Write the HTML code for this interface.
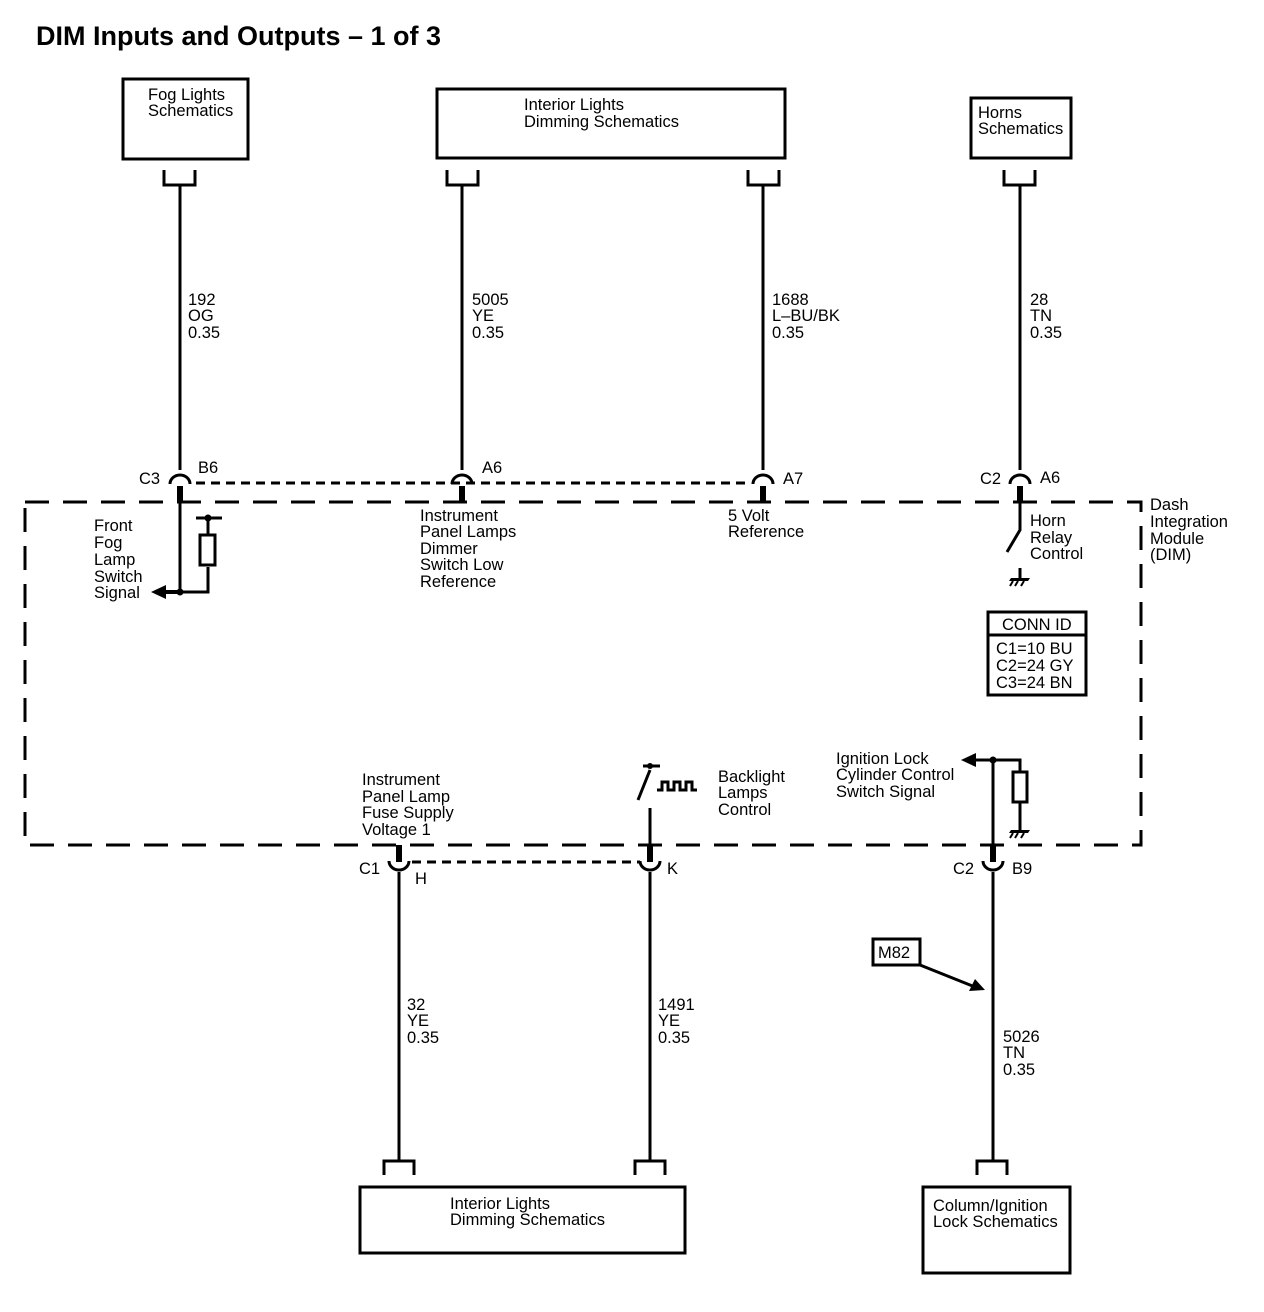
<!DOCTYPE html>
<html><head><meta charset="utf-8"><style>
html,body{margin:0;padding:0;background:#fff;}
svg{display:block;}
text{font-family:"Liberation Sans",sans-serif;font-size:16.5px;fill:#000;}
</style></head><body>
<svg width="1264" height="1312" viewBox="0 0 1264 1312" xmlns="http://www.w3.org/2000/svg">
<text x="36" y="45" style="font-size:27px;font-weight:bold">DIM Inputs and Outputs – 1 of 3</text>
<g fill="none" stroke="#000" stroke-width="3">
<rect x="123" y="79" width="125" height="80"/>
<rect x="437" y="89" width="348" height="69"/>
<rect x="971" y="98" width="100" height="60"/>
<rect x="360" y="1187" width="325" height="66"/>
<rect x="923" y="1187" width="147" height="86"/>
<path d="M164 170V185H195V170 M447 170V185H478V170 M748 170V185H779V170 M1004 170V185H1035V170"/>
<path d="M384 1175V1161H414V1175 M635 1175V1161H665V1175 M977 1175V1161H1007V1175"/>
<path d="M180 185V470 M462 185V470 M763 185V470 M1020 185V470"/>
<path d="M399 872V1161 M650 872V1161 M993 872V1161"/>
<path d="M170 484A10 9 0 0 1 190 484 M452 484A10 9 0 0 1 472 484 M753 484A10 9 0 0 1 773 484 M1010 484A10 9 0 0 1 1030 484"/>
<path d="M389 861A10 9 0 0 0 409 861 M640 861A10 9 0 0 0 660 861 M983 861A10 9 0 0 0 1003 861"/>
<path d="M196 483H750" stroke-dasharray="9,6"/>
<path d="M412 862H640" stroke-dasharray="9,6"/>
<rect x="25" y="502" width="1116" height="343" stroke-dasharray="24,14"/>
<path d="M180 500V592H208V567 M196 518H222 M208 518V535"/>
<rect x="200" y="535" width="15" height="30"/>
<path d="M1020 500V530L1007 552 M1020 568V578"/>
<path d="M650 808V845 M638 800L650 770 M643 766H660 M657 790H662V782H668V790H674V782H680V790H686V782H692V790H697"/>
<path d="M993 845V760 M975 760H1020V772 M1020 802V830"/>
<rect x="1013" y="772" width="14" height="30"/>
<rect x="873" y="939" width="47" height="26"/>
<path d="M920 965L975 987"/>
<rect x="988" y="612" width="98" height="83"/>
<path d="M988 635H1086"/>
</g>
<g stroke="#000" stroke-width="6">
<path d="M180 486V502 M462 486V502 M763 486V502 M1020 486V502"/>
<path d="M399 845V862 M650 845V862 M993 845V862"/>
</g>
<g fill="#000">
<circle cx="180" cy="592" r="3.5"/><circle cx="208" cy="518" r="3.5"/>
<circle cx="993" cy="760" r="3.5"/><circle cx="650" cy="766" r="3"/>
<path d="M180 590H164V594H180Z"/>
<path d="M151 592L166 585V599Z"/>
<path d="M961 760L976 753V767Z"/>
<path d="M985 990L969 991L975 979Z"/>
<path d="M1011 578H1030L1028 581H1009Z"/>
<path d="M1013 581L1010 586 M1018 581L1015 586 M1024 581L1021 586" stroke="#000" stroke-width="2"/>
<path d="M1011 830H1030L1028 833H1009Z"/>
<path d="M1013 833L1010 838 M1018 833L1015 838 M1024 833L1021 838" stroke="#000" stroke-width="2"/>
</g>
<text x="148" y="100">Fog Lights</text><text x="148" y="116">Schematics</text>
<text x="524" y="110">Interior Lights</text><text x="524" y="127">Dimming Schematics</text>
<text x="978" y="118">Horns</text><text x="978" y="134">Schematics</text>
<text x="450" y="1209">Interior Lights</text><text x="450" y="1225">Dimming Schematics</text>
<text x="933" y="1211">Column/Ignition</text><text x="933" y="1227">Lock Schematics</text>
<text x="188" y="305">192</text><text x="188" y="321">OG</text><text x="188" y="338">0.35</text>
<text x="472" y="305">5005</text><text x="472" y="321">YE</text><text x="472" y="338">0.35</text>
<text x="772" y="305">1688</text><text x="772" y="321">L–BU/BK</text><text x="772" y="338">0.35</text>
<text x="1030" y="305">28</text><text x="1030" y="321">TN</text><text x="1030" y="338">0.35</text>
<text x="407" y="1010">32</text><text x="407" y="1026">YE</text><text x="407" y="1043">0.35</text>
<text x="658" y="1010">1491</text><text x="658" y="1026">YE</text><text x="658" y="1043">0.35</text>
<text x="1003" y="1042">5026</text><text x="1003" y="1058">TN</text><text x="1003" y="1075">0.35</text>
<text x="139" y="484">C3</text><text x="198" y="473">B6</text>
<text x="482" y="473">A6</text><text x="783" y="484">A7</text>
<text x="980" y="484">C2</text><text x="1040" y="483">A6</text>
<text x="359" y="874">C1</text><text x="415" y="884">H</text>
<text x="667" y="874">K</text>
<text x="953" y="874">C2</text><text x="1012" y="874">B9</text>
<text x="94" y="531">Front</text><text x="94" y="548">Fog</text><text x="94" y="565">Lamp</text><text x="94" y="582">Switch</text><text x="94" y="598">Signal</text>
<text x="420" y="521">Instrument</text><text x="420" y="537">Panel Lamps</text><text x="420" y="554">Dimmer</text><text x="420" y="570">Switch Low</text><text x="420" y="587">Reference</text>
<text x="728" y="521">5 Volt</text><text x="728" y="537">Reference</text>
<text x="1030" y="526">Horn</text><text x="1030" y="543">Relay</text><text x="1030" y="559">Control</text>
<text x="1150" y="510">Dash</text><text x="1150" y="527">Integration</text><text x="1150" y="544">Module</text><text x="1150" y="560">(DIM)</text>
<text x="1002" y="630">CONN ID</text>
<text x="996" y="654">C1=10 BU</text><text x="996" y="671">C2=24 GY</text><text x="996" y="688">C3=24 BN</text>
<text x="362" y="785">Instrument</text><text x="362" y="802">Panel Lamp</text><text x="362" y="818">Fuse Supply</text><text x="362" y="835">Voltage 1</text>
<text x="718" y="782">Backlight</text><text x="718" y="798">Lamps</text><text x="718" y="815">Control</text>
<text x="836" y="764">Ignition Lock</text><text x="836" y="780">Cylinder Control</text><text x="836" y="797">Switch Signal</text>
<text x="878" y="958">M82</text>
</svg>
</body></html>
